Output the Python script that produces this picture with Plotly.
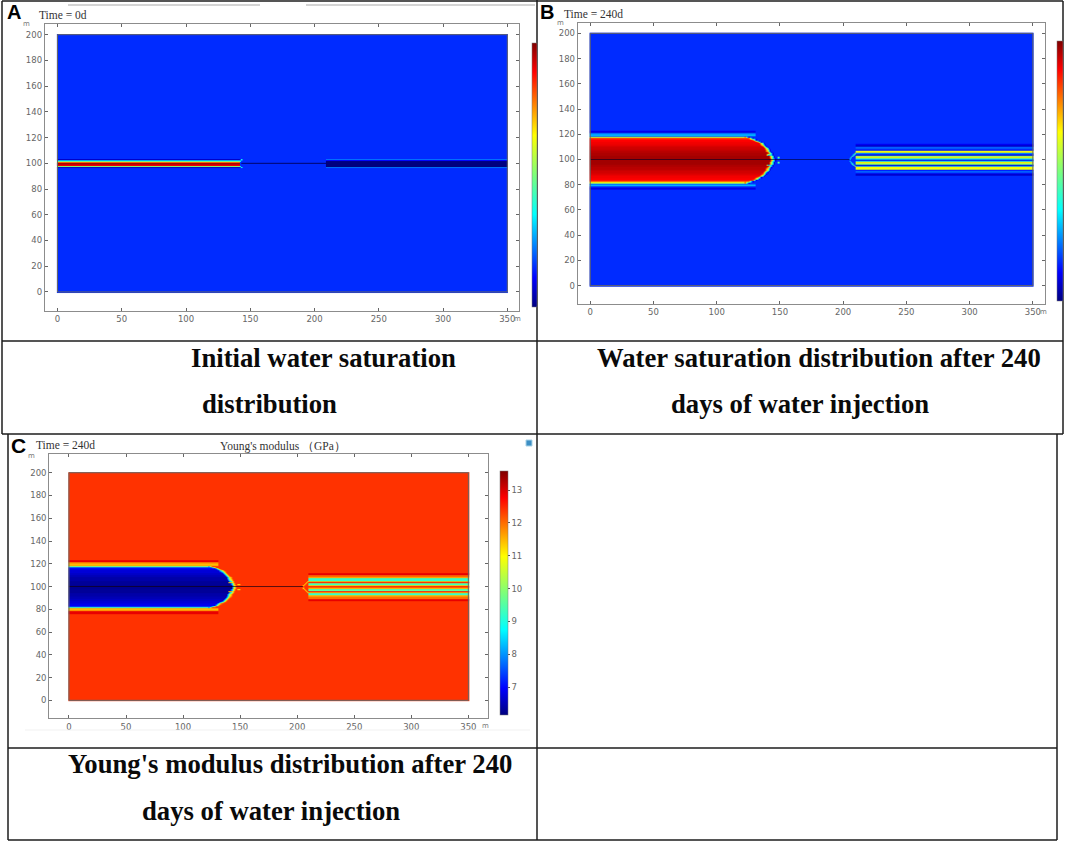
import numpy as np
import plotly.graph_objects as go

W = 1065
H = 843

x_ticks = [0, 50, 100, 150, 200, 250, 300, 350]
y_ticks = [0, 20, 40, 60, 80, 100, 120, 140, 160, 180, 200]
modulus_ticks = [7, 8, 9, 10, 11, 12, 13]

jet = [[0, '#00007f'], [0.11, '#0000ff'], [0.35, '#00ffff'], [0.5, '#7dff7a'],
       [0.65, '#ffff00'], [0.89, '#ff0000'], [1, '#7f0000']]

# panel A, initial saturation
a_rows = [104, 103, 102, 101, 100, 99, 98, 97, 96]
a_left = [0.15, 0.06, 0.5, 0.8, 0.97, 0.9, 0.5, 0.06, 0.15]
a_right = [0.15, 0.22, 0.0, 0.0, 0.0, 0.0, 0.0, 0.22, 0.15]
a_left_end = [142, 142, 142, 142, 142, 142, 142, 142, 142]
a_spots = [[143, 103, 0.38], [143, 97, 0.38], [142, 102, 0.38], [142, 98, 0.38]]

# panels B and C share the same rows around the well
rows = [124, 123, 122, 121, 120, 119, 118, 117, 116, 115, 114, 113, 112, 111, 110, 109, 108,
        107, 106, 105, 104, 103, 102, 101, 100, 99, 98, 97, 96, 95, 94, 93, 92, 91, 90, 89,
        88, 87, 86, 85, 84, 83, 82, 81, 80, 79, 78, 77, 76]
front_end = [131, 131, 131, 131, 131, 131, 126, 129, 132, 134, 136, 138, 139, 140, 141, 142, 143,
             143, 144, 145, 145, 146, 146, 147, 147, 147, 146, 146, 145, 145, 144, 143, 143, 142, 141, 140,
             139, 138, 136, 134, 132, 129, 126, 131, 131, 131, 131, 131, 131]

b_left = [0.15, 0.1, 0.08, 0.2, 0.3, 0.2, 0.55, 0.82, 0.89, 0.89, 0.9, 0.9, 0.91, 0.92, 0.93, 0.93, 0.94,
          0.95, 0.95, 0.96, 0.96, 0.97, 0.97, 0.97, 0.97, 0.97, 0.97, 0.97, 0.96, 0.96, 0.95, 0.95, 0.94, 0.93, 0.93, 0.92,
          0.91, 0.9, 0.9, 0.89, 0.89, 0.82, 0.55, 0.2, 0.3, 0.2, 0.08, 0.1, 0.15]
b_right = [0.15, 0.15, 0.15, 0.15, 0.15, 0.15, 0.15, 0.15, 0.15, 0.15, 0.15, 0.15, 0.07, 0.07, 0.2, 0.2, 0.12,
           0.62, 0.66, 0.25, 0.08, 0.5, 0.68, 0.3, 0.1, 0.3, 0.68, 0.5, 0.08, 0.25, 0.66, 0.62, 0.12, 0.2, 0.2, 0.07,
           0.07, 0.15, 0.15, 0.15, 0.15, 0.15, 0.15, 0.15, 0.15, 0.15, 0.15, 0.15, 0.15]
b_rim = [0.8, 0.6, 0.35, 0.07]
b_spots = [[140, 104, 0.3], [141, 104, 0.3], [142, 104, 0.3], [140, 96, 0.3], [141, 96, 0.3], [142, 96, 0.3],
           [144, 101, 0.3], [144, 99, 0.3], [148, 102, 0.5], [149, 102, 0.5], [148, 98, 0.5], [149, 98, 0.5],
           [208, 104, 0.45], [207, 103, 0.45], [206, 102, 0.4], [205, 101, 0.35], [205, 99, 0.35], [206, 98, 0.4],
           [207, 97, 0.45], [208, 96, 0.45], [209, 105, 0.6], [209, 95, 0.6]]

c_left = [12.4, 12.9, 12.9, 11.8, 11.4, 11.6, 9.5, 7.4, 6.9, 6.8, 6.7, 6.7, 6.6, 6.6, 6.5, 6.5, 6.4,
          6.4, 6.4, 6.3, 6.3, 6.3, 6.3, 6.25, 6.25, 6.25, 6.3, 6.3, 6.3, 6.3, 6.4, 6.4, 6.4, 6.5, 6.5, 6.6,
          6.6, 6.7, 6.7, 6.8, 6.9, 7.4, 9.5, 11.6, 11.4, 11.8, 12.9, 12.9, 12.4]
c_right = [12.4, 12.4, 12.4, 12.4, 12.4, 12.4, 12.4, 12.4, 12.4, 12.4, 12.4, 12.4, 12.9, 12.9, 12.0, 12.0, 11.5,
           9.2, 9.2, 11.6, 12.6, 9.6, 9.2, 11.4, 12.6, 11.4, 9.2, 9.6, 12.6, 11.6, 9.2, 9.2, 11.5, 12.0, 12.0, 12.9,
           12.9, 12.4, 12.4, 12.4, 12.4, 12.4, 12.4, 12.4, 12.4, 12.4, 12.4, 12.4, 12.4]
c_rim = [8.0, 9.0, 10.8, 11.8]
c_spots = [[140, 104, 11.4], [141, 104, 11.4], [142, 104, 11.4], [140, 96, 11.4], [141, 96, 11.4], [142, 96, 11.4],
           [144, 101, 11.4], [144, 99, 11.4], [148, 102, 11.0], [149, 102, 11.0], [148, 98, 11.0], [149, 98, 11.0],
           [208, 104, 11.0], [207, 103, 11.0], [206, 102, 11.0], [205, 101, 11.0], [205, 99, 11.0], [206, 98, 11.0],
           [207, 97, 11.0], [208, 96, 11.0], [209, 105, 10.8], [209, 95, 10.8]]

# text of the table cells: string, centre x, centre y
captions = [
    ['Initial water saturation', 323, 358],
    ['distribution', 269, 404],
    ['Water saturation distribution after 240', 819, 358],
    ['days of water injection', 800, 404],
    ["Young's modulus distribution after 240", 290, 764],
    ['days of water injection', 271, 811],
]


def px(x):
    return x / W


def py(y):
    return 1 - y / H


def paint(background, rows_, left, right, left_end, right_start, spots, rim=None):
    z = np.full((201, 351), float(background))
    for i, y in enumerate(rows_):
        z[y, :left_end[i]] = left[i]
        z[y, right_start:] = right[i]
        if rim is not None and 82 <= y <= 118:
            for k, v in enumerate(rim):
                z[y, left_end[i] - len(rim) + k] = v
    for sx, sy, v in spots:
        z[sy, sx] = v
    return z


panels = [
    dict(n='', box=(44.8, 519.4, 24, 311), xr=[-9.9, 359.4], yr=[-14.8, 208.3],
         z=paint(0.15, a_rows, a_left, a_right, a_left_end, 209, a_spots),
         zr=[0, 1], cb=(532, 4.5, 42.7, 264), crack=[143, 209], crack_c='rgba(0,0,90,0.9)'),
    dict(n='2', box=(577.7, 1045, 23, 303.7), xr=[-9.9, 359.6], yr=[-14.3, 208.2],
         z=paint(0.15, rows, b_left, b_right, front_end, 210, b_spots, b_rim),
         zr=[0, 1], cb=(1057, 6.4, 41.3, 259.7), crack=[0, 205], crack_c='rgba(0,0,40,0.6)'),
    dict(n='3', box=(49.2, 488, 454.3, 718.3), xr=[-17.3, 367.2], yr=[-15.8, 216.2],
         z=paint(12.4, rows, c_left, c_right, front_end, 210, c_spots, c_rim),
         zr=[6.14, 13.57], cb=(499.7, 7.6, 471.3, 244), crack=[0, 205], crack_c='rgba(20,0,20,0.7)'),
]

fig = go.Figure()
shapes = []
tick_font = dict(family='DejaVu Sans', size=8.5, color='#666666')

for p in panels:
    x0, x1, y0, y1 = p['box']
    cx, cw, cy, cl = p['cb']
    has_ticks = p['n'] == '3'
    fig.add_trace(go.Heatmap(
        z=p['z'], x=list(range(351)), y=list(range(201)),
        zmin=p['zr'][0], zmax=p['zr'][1], colorscale=jet, zsmooth='best',
        xaxis='x' + p['n'], yaxis='y' + p['n'], hoverinfo='skip',
        colorbar=dict(
            x=px(cx), xanchor='left', xpad=0, ypad=0,
            y=py(cy), yanchor='top', lenmode='pixels', len=cl,
            thicknessmode='pixels', thickness=cw, outlinewidth=0.5, outlinecolor='#777777',
            tickvals=modulus_ticks if has_ticks else [],
            ticks='outside' if has_ticks else '', ticklen=2, tickcolor='#555555',
            tickfont=tick_font, showticklabels=has_ticks,
        ),
    ))
    fig.add_trace(go.Scatter(
        x=p['crack'], y=[100, 100], mode='lines', xaxis='x' + p['n'], yaxis='y' + p['n'],
        line=dict(color=p['crack_c'], width=1), hoverinfo='skip', showlegend=False,
    ))
    axis = dict(showgrid=False, zeroline=False, showline=True, linecolor='#8c8c8c', linewidth=1,
                mirror='ticks', ticks='inside', ticklen=3, tickcolor='#666666', tickfont=tick_font)
    fig.layout['xaxis' + p['n']] = dict(axis, domain=[px(x0), px(x1)], range=p['xr'],
                                        tickvals=x_ticks, anchor='y' + p['n'])
    fig.layout['yaxis' + p['n']] = dict(axis, domain=[py(y1), py(y0)], range=p['yr'],
                                        tickvals=y_ticks, anchor='x' + p['n'])
    shapes.append(dict(type='rect', xref='x' + p['n'], yref='y' + p['n'], x0=0, x1=350, y0=0, y1=200,
                       line=dict(color='#666666', width=1)))

# table rules, in page pixels
rules = [
    [2, 1, 537, 1], [537, 1, 1063, 1], [2, 1, 2, 434], [537, 0, 537, 840], [1063, 1, 1063, 434],
    [2, 341, 1063, 341], [2, 434, 1063, 434], [8, 434, 8, 840], [1057, 434, 1057, 840],
    [8, 748, 1057, 748], [8, 840, 1057, 840],
]
for a, b, c, d in rules:
    shapes.append(dict(type='line', xref='paper', yref='paper', x0=px(a), y0=py(b), x1=px(c), y1=py(d),
                       line=dict(color='#1c1c1c', width=1.5)))
for a, c in [[68, 260], [306, 535]]:
    shapes.append(dict(type='line', xref='paper', yref='paper', x0=px(a), y0=py(5), x1=px(c), y1=py(5),
                       line=dict(color='#d4d4d4', width=2)))
shapes.append(dict(type='line', xref='paper', yref='paper', x0=px(25), y0=py(730), x1=px(530), y1=py(730),
                   line=dict(color='#f1f1f1', width=1)))
shapes.append(dict(type='rect', xref='paper', yref='paper', x0=px(526), y0=py(440), x1=px(532), y1=py(446),
                   fillcolor='#3d8fc4', line=dict(color='#a9d3e8', width=1)))

annotations = []


def note(text, x, y, family, size, color='#333333', bold=False):
    annotations.append(dict(text='<b>%s</b>' % text if bold else text, x=px(x), y=py(y),
                            xref='paper', yref='paper', xanchor='center', yanchor='middle',
                            showarrow=False, font=dict(family=family, size=size, color=color)))


for text, x, y in captions:
    note(text, x, y, 'Liberation Serif', 26.7, '#0a0a0a', True)

note('A', 13.5, 12, 'Liberation Sans', 20, 'black', True)
note('B', 547, 12, 'Liberation Sans', 20, 'black', True)
note('C', 18.5, 446, 'Liberation Sans', 21, 'black', True)
note('Time = 0d', 63, 15, 'Liberation Serif', 11.5)
note('Time = 240d', 593, 13.5, 'Liberation Serif', 11.5)
note('Time = 240d', 65, 445, 'Liberation Serif', 11.5)
note("Young's modulus （GPa）", 283, 447, 'Liberation Serif', 11.5)
for x, y in [[26, 24], [517.6, 319], [560, 23], [1043, 312], [31, 456], [485, 726]]:
    note('m', x, y, 'DejaVu Sans', 7, '#777777')

fig.update_layout(
    width=W, height=H, autosize=False, margin=dict(l=0, r=0, t=0, b=0, pad=0),
    paper_bgcolor='white', plot_bgcolor='white', showlegend=False,
    shapes=shapes, annotations=annotations,
)
# the page body has a default margin that would push the figure off its place
fig.write_html("out.html", config={'displayModeBar': False},
               post_script="document.body.style.margin='0';")
